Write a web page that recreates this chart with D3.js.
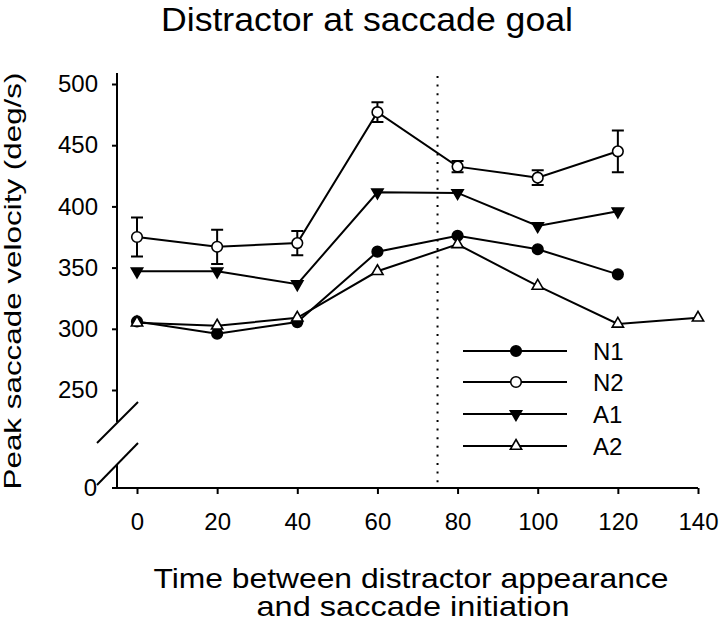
<!DOCTYPE html>
<html>
<head>
<meta charset="utf-8">
<script src="https://cdn.jsdelivr.net/npm/d3@7"></script>
<style>
  body { margin: 0; background: #fff; }
  svg { font-family: "Liberation Sans", Arial, sans-serif; }
</style>
</head>
<body>
<svg id="chart" width="720" height="627"></svg>
<script>
const times = [0, 20, 40, 60, 80, 100, 120];
const timesA2 = [0, 20, 40, 60, 80, 100, 120, 140];
const n1 = [306, 296, 305.5, 363, 376, 365, 344.5];
const n2 = [375, 367, 370, 477, 432.5, 423.5, 445];
const n2Err = [16, 14, 10, 8, 4.5, 6, 17];
const a1 = [347, 347, 336.5, 411.5, 411, 384, 396];
const a2 = [305, 302.5, 309, 347, 369, 335, 304, 309];
const xTicks = [0, 20, 40, 60, 80, 100, 120, 140];
const yTicks = [250, 300, 350, 400, 450, 500];
const cutoff = 75;

const svg = d3.select("#chart");
const x = d3.scaleLinear().domain([0, 140]).range([137, 698]);
const y = d3.scaleLinear().domain([250, 500]).range([390, 84]);
const xAxisY = 488, yAxisX = 117;

const series = [
  { name: "N1", xs: times, ys: n1, shape: "circle", fill: "#000" },
  { name: "N2", xs: times, ys: n2, shape: "circle", fill: "#fff", err: n2Err },
  { name: "A1", xs: times, ys: a1, shape: "down", fill: "#000" },
  { name: "A2", xs: timesA2, ys: a2, shape: "up", fill: "#fff" },
];

function marker(sel, s) {
  if (s.shape === "circle") {
    sel.append("circle").attr("r", 5.3);
  } else {
    sel.append("path")
      .attr("d", d3.symbol().type(d3.symbolTriangle).size(55)())
      .attr("transform", s.shape === "down" ? "rotate(180)" : null);
  }
  sel.selectAll("circle, path")
    .attr("fill", s.fill)
    .attr("stroke", "#000")
    .attr("stroke-width", 1.6);
}

// title
svg.append("text")
  .attr("x", 367).attr("y", 31)
  .attr("text-anchor", "middle")
  .attr("font-size", 33)
  .attr("textLength", 412).attr("lengthAdjust", "spacingAndGlyphs")
  .text("Distractor at saccade goal");

// y axis (broken)
const yAxis = svg.append("g")
  .attr("transform", `translate(${yAxisX},0)`)
  .call(d3.axisLeft(y).tickValues(yTicks).tickSize(5).tickPadding(14));
yAxis.select(".domain").remove();
yAxis.selectAll("line").attr("stroke-width", 2);
yAxis.selectAll("text").attr("font-size", 24).attr("fill", "#000");

svg.append("line")
  .attr("x1", yAxisX).attr("x2", yAxisX).attr("y1", 73).attr("y2", 422)
  .attr("stroke", "#000").attr("stroke-width", 2);
svg.append("line")
  .attr("x1", yAxisX).attr("x2", yAxisX).attr("y1", 464).attr("y2", xAxisY)
  .attr("stroke", "#000").attr("stroke-width", 2);
[[97, 443, 138, 402], [97, 485, 138, 443]].forEach((b) => {
  svg.append("line")
    .attr("x1", b[0]).attr("y1", b[1]).attr("x2", b[2]).attr("y2", b[3])
    .attr("stroke", "#000").attr("stroke-width", 2);
});
svg.append("text")
  .attr("x", 97).attr("y", xAxisY).attr("dy", "0.32em")
  .attr("text-anchor", "end").attr("font-size", 24)
  .text("0");

// x axis
const xAxis = svg.append("g")
  .attr("transform", `translate(0,${xAxisY})`)
  .call(d3.axisBottom(x).tickValues(xTicks).tickSize(6).tickPadding(19));
xAxis.select(".domain").remove();
xAxis.selectAll("line").attr("stroke-width", 2);
xAxis.selectAll("text").attr("font-size", 24).attr("fill", "#000");
svg.append("line")
  .attr("x1", 112).attr("x2", x(140)).attr("y1", xAxisY).attr("y2", xAxisY)
  .attr("stroke", "#000").attr("stroke-width", 2);

// axis titles
svg.append("text")
  .attr("transform", "translate(21,281) rotate(-90)")
  .attr("text-anchor", "middle")
  .attr("font-size", 24)
  .attr("textLength", 417).attr("lengthAdjust", "spacingAndGlyphs")
  .text("Peak saccade velocity (deg/s)");
svg.append("text")
  .attr("x", 411).attr("y", 588)
  .attr("text-anchor", "middle").attr("font-size", 28)
  .attr("textLength", 515).attr("lengthAdjust", "spacingAndGlyphs")
  .text("Time between distractor appearance");
svg.append("text")
  .attr("x", 413).attr("y", 616)
  .attr("text-anchor", "middle").attr("font-size", 28)
  .attr("textLength", 313).attr("lengthAdjust", "spacingAndGlyphs")
  .text("and saccade initiation");

// dotted line at cutoff
svg.append("line")
  .attr("x1", x(cutoff)).attr("x2", x(cutoff)).attr("y1", 76).attr("y2", 484)
  .attr("stroke", "#000").attr("stroke-width", 2)
  .attr("stroke-dasharray", "2,6.6");

// series
const line = d3.line().x((d) => x(d[0])).y((d) => y(d[1]));
series.forEach((s) => {
  const pts = s.xs.map((t, i) => [t, s.ys[i]]);
  const g = svg.append("g");
  if (s.err) {
    pts.forEach((p, i) => {
      const cx = x(p[0]), top = y(p[1] + s.err[i]), bot = y(p[1] - s.err[i]);
      g.append("path")
        .attr("d", `M${cx},${top}V${bot}M${cx - 6},${top}H${cx + 6}M${cx - 6},${bot}H${cx + 6}`)
        .attr("fill", "none").attr("stroke", "#000").attr("stroke-width", 2);
    });
  }
  g.append("path")
    .attr("d", line(pts))
    .attr("fill", "none").attr("stroke", "#000").attr("stroke-width", 2);
  pts.forEach((p) => {
    g.append("g")
      .attr("transform", `translate(${x(p[0])},${y(p[1])})`)
      .call(marker, s);
  });
});

// legend
const legendY = [351, 382, 414, 446];
series.forEach((s, i) => {
  const lg = svg.append("g").attr("transform", `translate(0,${legendY[i]})`);
  lg.append("line")
    .attr("x1", 463).attr("x2", 567)
    .attr("stroke", "#000").attr("stroke-width", 2);
  lg.append("g").attr("transform", "translate(516,0)").call(marker, s);
  lg.append("text")
    .attr("x", 593).attr("dy", "0.36em")
    .attr("font-size", 24)
    .text(s.name);
});
</script>
</body>
</html>
